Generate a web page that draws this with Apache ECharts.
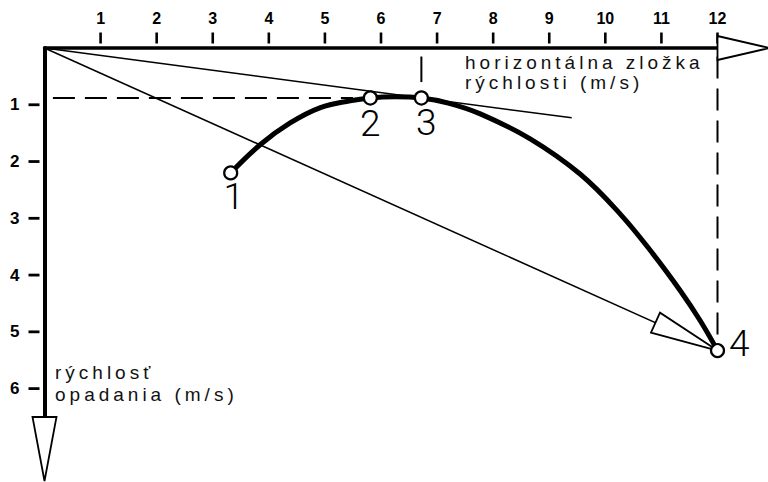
<!DOCTYPE html>
<html>
<head>
<meta charset="utf-8">
<script src="https://cdn.jsdelivr.net/npm/echarts/dist/echarts.min.js"></script>
<style>
html,body{margin:0;padding:0;background:#fff;}
#chart{width:768px;height:482px;}
#chart text[style*="19px"]{letter-spacing:4px;}
</style>
</head>
<body>
<div id="chart"></div>
<script>
// ---- data ----
const xTicks = [1,2,3,4,5,6,7,8,9,10,11,12];
const yTicks = [1,2,3,4,5,6];
const polarCurve = [
  [3.32,2.20],[3.85,1.70],[4.38,1.32],[4.92,1.05],[5.45,0.93],[5.81,0.88],
  [6.25,0.86],[6.72,0.88],[7.20,0.97],[7.77,1.16],[8.66,1.60],[9.55,2.22],
  [10.27,2.93],[10.86,3.64],[11.34,4.28],[11.69,4.80],[12.00,5.33]
];
const keyPoints = [[3.32,2.20,'1'],[5.81,0.88,'2'],[6.72,0.88,'3'],[12.00,5.33,'4']];
const tangentLine = [[0,0],[9.4,1.23]];
const glideVector = [[0,0],[12.00,5.33]];
const minSinkGuide = [[0.15,0.88],[5.5,0.88]];
const bestGlideGuide = [[6.72,0.15],[6.72,0.6]];
const maxSpeedGuide = [[12,0.15],[12,5.1]];
const axisEnds = [[0,0,12,0],[0,0,0,6.5]];
const xTitle = ['horizontálna zložka','rýchlosti (m/s)'];
const yTitle = ['rýchlosť','opadania (m/s)'];

const chart = echarts.init(document.getElementById('chart'), null, {renderer:'svg'});

const BLACK = '#000';

function arrowPoly(tip, dirFrom, L, W){
  const dx = tip[0]-dirFrom[0], dy = tip[1]-dirFrom[1];
  const len = Math.hypot(dx,dy) || 1;
  const ux = dx/len, uy = dy/len;
  const bx = tip[0]-ux*L, by = tip[1]-uy*L;
  return [[tip[0],tip[1]],[bx-uy*W, by+ux*W],[bx+uy*W, by-ux*W]];
}

const labelPlacement = [
  {position:'bottom', distance:-2, offset:[3,0]},
  {position:'bottom', distance:-1, offset:[0,0]},
  {position:'bottom', distance:-2, offset:[5,0]},
  {position:'right', distance:4, offset:[0,-7]}
];

const option = {
  animation:false,
  backgroundColor:'#fff',
  grid:{left:44.5, top:48, width:673, height:369},
  xAxis:{
    type:'value', position:'top', min:0, max:12, interval:1,
    axisLine:{show:true, onZero:false, lineStyle:{color:BLACK, width:3.5}},
    axisTick:{show:false}, splitLine:{show:false},
    axisLabel:{margin:22, showMinLabel:false, color:BLACK, fontSize:16, fontWeight:'bold', fontFamily:'Liberation Sans',
      formatter:v => xTicks.includes(v) ? String(v) : ''}
  },
  yAxis:{
    type:'value', inverse:true, min:0, max:6.5, interval:1,
    axisLine:{show:true, onZero:false, lineStyle:{color:BLACK, width:4}},
    axisTick:{show:false}, splitLine:{show:false},
    axisLabel:{margin:25, showMinLabel:false, showMaxLabel:false, color:BLACK, fontSize:17, fontWeight:'bold', fontFamily:'Liberation Sans',
      formatter:v => yTicks.includes(v) ? String(v) : ''}
  },
  graphic:[
    {type:'text', left:465, top:53, style:{text:xTitle[0], fontSize:19, fontFamily:'Liberation Sans', fill:'#111'}},
    {type:'text', left:465, top:73, style:{text:xTitle[1], fontSize:19, fontFamily:'Liberation Sans', fill:'#111'}},
    {type:'text', left:55, top:363, style:{text:yTitle[0], fontSize:19, fontFamily:'Liberation Sans', fill:'#111'}},
    {type:'text', left:55, top:385, style:{text:yTitle[1], fontSize:19, fontFamily:'Liberation Sans', fill:'#111'}}
  ],
  series:[
    {type:'custom', coordinateSystem:'cartesian2d', silent:true, z:3, clip:false,
      data:xTicks.map(v=>[v,0]),
      renderItem:(p,api)=>{const c=api.coord([api.value(0),api.value(1)]);
        return {type:'line', shape:{x1:c[0],y1:c[1]-4.5,x2:c[0],y2:c[1]-15.5}, style:{stroke:BLACK,lineWidth:2.6}};}},
    {type:'custom', coordinateSystem:'cartesian2d', silent:true, z:3, clip:false,
      data:yTicks.map(v=>[0,v]),
      renderItem:(p,api)=>{const c=api.coord([api.value(0),api.value(1)]);
        return {type:'line', shape:{x1:c[0]-5,y1:c[1],x2:c[0]-16,y2:c[1]}, style:{stroke:BLACK,lineWidth:2.8}};}},
    {type:'custom', coordinateSystem:'cartesian2d', silent:true, z:4, clip:false,
      data:axisEnds, encode:{x:[0,2], y:[1,3]},
      renderItem:(p,api)=>{
        const a=api.coord([api.value(0),api.value(1)]), b=api.coord([api.value(2),api.value(3)]);
        const L = p.dataIndex===0 ? 52 : 64;
        const dx=b[0]-a[0], dy=b[1]-a[1], len=Math.hypot(dx,dy);
        const tip=[b[0]+dx/len*L, b[1]+dy/len*L];
        return {type:'polygon', shape:{points:arrowPoly(tip,a,L,12)}, style:{fill:'#fff',stroke:BLACK,lineWidth:1.8}};
      }},
    {type:'line', data:minSinkGuide, symbol:'none', silent:true, z:2,
      lineStyle:{color:BLACK, width:2, type:[22,10]}},
    {type:'line', data:bestGlideGuide, symbol:'none', silent:true, z:2,
      lineStyle:{color:BLACK, width:2, type:[28,10]}},
    {type:'line', data:maxSpeedGuide, symbol:'none', silent:true, z:2,
      lineStyle:{color:BLACK, width:2, type:[22,10]}},
    {type:'line', data:tangentLine, symbol:'none', silent:true, z:2,
      lineStyle:{color:BLACK, width:1.5}},
    {type:'line', data:glideVector, symbol:'none', silent:true, z:2,
      lineStyle:{color:BLACK, width:1.5}},
    {type:'custom', coordinateSystem:'cartesian2d', silent:true, z:4, clip:false,
      data:[[glideVector[0][0],glideVector[0][1],glideVector[1][0],glideVector[1][1]]], encode:{x:[0,2], y:[1,3]},
      renderItem:(p,api)=>{
        const a=api.coord([api.value(0),api.value(1)]), b=api.coord([api.value(2),api.value(3)]);
        return {type:'polygon', shape:{points:arrowPoly(b,a,68,11)}, style:{fill:'#fff',stroke:BLACK,lineWidth:1.8}};
      }},
    {type:'line', data:polarCurve, symbol:'none', smooth:0.4, silent:true, z:5,
      lineStyle:{color:BLACK, width:5, cap:'round'}},
    {type:'scatter', z:6, silent:true, symbol:'circle', symbolSize:13,
      itemStyle:{color:'#fff', borderColor:BLACK, borderWidth:2.2, opacity:1},
      data:keyPoints.map((d,i)=>({value:[d[0],d[1]], name:d[2],
        label:Object.assign({show:true, formatter:d[2],
          fontFamily:'Roboto, Liberation Sans',
          fontWeight:300, fontSize:37, color:BLACK}, labelPlacement[i])}))}
  ]
};
chart.setOption(option);
</script>
</body>
</html>
